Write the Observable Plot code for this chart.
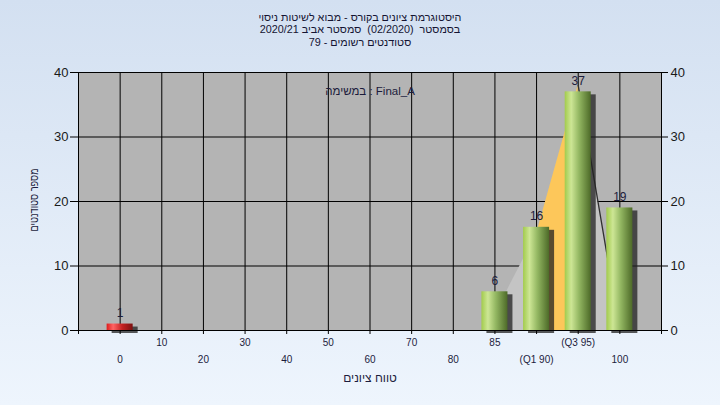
<!DOCTYPE html>
<html><head><meta charset="utf-8">
<script src="https://cdn.jsdelivr.net/npm/d3@7"></script>
<script src="https://cdn.jsdelivr.net/npm/@observablehq/plot@0.6"></script>
<style>
html,body{margin:0;padding:0;}
body{width:720px;height:405px;overflow:hidden;background:linear-gradient(#d3e0f1,#eef5fd);font-family:"Liberation Sans",Arial,"DejaVu Sans",sans-serif;}
#wrap{position:relative;width:720px;height:405px;}
#title{position:absolute;top:11px;left:0;width:720px;text-align:center;font-size:10.8px;line-height:12.4px;color:#141432;direction:rtl;}
#ytitle{position:absolute;left:34px;top:200px;transform:translate(-50%,-50%) rotate(-90deg) scaleX(0.8);white-space:nowrap;font-size:11.5px;color:#1c1c3c;direction:rtl;}
#chart{position:absolute;left:0;top:0;}
</style></head><body>
<div id="wrap"><div id="chart"></div>
<div id="title">
<div>היסטוגרמת ציונים בקורס - מבוא לשיטות ניסוי</div>
<div>בסמסטר&nbsp; (02/2020)&nbsp; סמסטר אביב 2020/21</div>
<div>סטודנטים רשומים - 79</div>
</div>
<div id="ytitle"></div>
</div>
<script>
// ---- data ----
const grades = ["0","10","20","30","40","50","60","70","80","85","(Q1 90)","(Q3 95)","100"];
const counts = [1,0,0,0,0,0,0,0,0,6,16,37,19];
const curve  = [0,0,0,0,0,0,0,0,0,2.5,15,38,0];   // background area series (estimated)
const yTicks = [0,10,20,30,40];
const failGrades = ["0"];
const taskLabel = "במשימה : Final_A";
const xTitle = "טווח ציונים";
const yTitle = "מספר סטודנטים";

document.getElementById("ytitle").textContent = yTitle;

const rows = grades.map((g,i)=>({i, g, n: counts[i], c: curve[i]}));
const hw = 0.3125;
const seg = (a,b) => rows.slice(a, b+1);
const q1 = grades.indexOf("(Q1 90)"), q3 = grades.indexOf("(Q3 95)");
const nonzero = rows.filter(d => d.n > 0);
const txt = "#1c1c3c";

const chart = Plot.plot({
  width: 720, height: 405,
  marginLeft: 78, marginRight: 59, marginTop: 72, marginBottom: 75,
  x: {domain: [-1, grades.length], axis: null},
  y: {domain: [0, 40], axis: null},
  style: {fontFamily: '"Liberation Sans", Arial, "DejaVu Sans", sans-serif', fontSize: "12px", background: "transparent", color: txt},
  marks: [
    Plot.frame({fill: "#b4b4b4"}),
    Plot.ruleX(rows, {x: "i", stroke: "black"}),
    Plot.ruleY(yTicks.slice(1, -1), {stroke: "black"}),
    Plot.areaY(seg(q1 - 1, q1), {x: "i", y: "c", fill: "#c4c4c4"}),
    Plot.areaY(seg(q3, q3 + 1), {x: "i", y: "c", fill: "#c4c4c4"}),
    Plot.areaY(seg(q1, q3), {x: "i", y: "c", fill: "#fdc75a"}),
    Plot.lineY(seg(q3, q3 + 1), {x: "i", y: "c", stroke: "#303030", strokeWidth: 1.3}),
    Plot.rectY(nonzero, {x1: d => d.i - hw, x2: d => d.i + hw, y: "n", dx: 5, dy: 3, fill: "#222", fillOpacity: 0.75, ariaLabel: "shadow"}),
    Plot.rectY(nonzero.filter(d => !failGrades.includes(d.g)), {x1: d => d.i - hw, x2: d => d.i + hw, y: "n", fill: "url(#gGreen)"}),
    Plot.rectY(nonzero.filter(d => failGrades.includes(d.g)), {x1: d => d.i - hw, x2: d => d.i + hw, y: "n", fill: "url(#gRed)"}),
    Plot.frame({stroke: "black"}),
    Plot.text(nonzero, {x: "i", y: "n", text: d => String(d.n), dy: -11, fill: txt, fontSize: 12}),
    Plot.text(rows.filter(d => d.i % 2 === 1), {x: "i", frameAnchor: "bottom", dy: 15, text: "g", fontSize: 10, fill: txt}),
    Plot.text(rows.filter(d => d.i % 2 === 0), {x: "i", frameAnchor: "bottom", dy: 32, text: "g", fontSize: 10, fill: txt}),
    Plot.axisX({ticks: d3.range(-1, grades.length + 1), tickSize: 4, tickFormat: () => "", label: null, stroke: "black"}),
    Plot.axisY({anchor: "left", ticks: yTicks, tickSize: 8, tickPadding: 2, fontSize: 13, label: null, stroke: "black", fill: "#1a1a1a"}),
    Plot.axisY({anchor: "right", ticks: yTicks, tickSize: 6, tickPadding: 3, fontSize: 13, label: null, stroke: "black", fill: "#1a1a1a"}),
    Plot.text([taskLabel], {frameAnchor: "top", dy: 14, text: d => d, fontSize: 11.5, fill: txt}),
    Plot.text([xTitle], {frameAnchor: "bottom", dy: 51, text: d => d, fontSize: 12, fill: txt})
  ]
});

const svg = d3.select(chart);
const defs = svg.insert("defs", ":first-child");
function grad(id, stops) {
  const g = defs.append("linearGradient").attr("id", id).attr("x1", "0").attr("x2", "1").attr("y1", "0").attr("y2", "0");
  stops.forEach(([o, c]) => g.append("stop").attr("offset", o).attr("stop-color", c));
}
grad("gGreen", [["0%", "#a2cb4c"], ["25%", "#cde695"], ["55%", "#93b762"], ["100%", "#4d6a28"]]);
grad("gRed", [["0%", "#dd1c1c"], ["25%", "#ff6464"], ["60%", "#c42020"], ["100%", "#7c1010"]]);
const f = defs.append("filter").attr("id", "blurShadow").attr("x", "-50%").attr("y", "-50%").attr("width", "200%").attr("height", "200%");
f.append("feGaussianBlur").attr("stdDeviation", 2);
svg.select('g[aria-label="shadow"]').attr("filter", "url(#blurShadow)");
document.getElementById("chart").appendChild(chart);
</script>
</body></html>
